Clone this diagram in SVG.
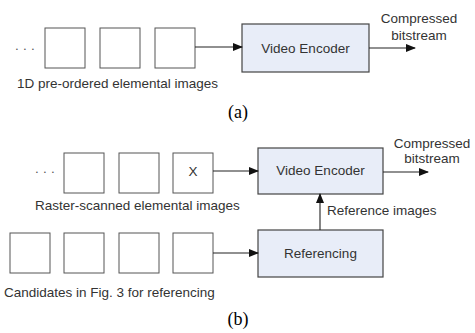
<svg xmlns="http://www.w3.org/2000/svg" width="475" height="333" viewBox="0 0 475 333">
<defs>
<style>
.sq{fill:#fff;stroke:#555;stroke-width:1}
.box{fill:#e8edf8;stroke:#444;stroke-width:1.2}
.t{font-family:"Liberation Sans",Arial,sans-serif;font-size:13.5px;fill:#333}
.c{text-anchor:middle}
.cap{font-family:"Liberation Serif","Times New Roman",serif;font-size:18px;fill:#000;text-anchor:middle}
.ln{stroke:#222;stroke-width:1.1;fill:none;marker-end:url(#ah)}
.dots{font-family:"Liberation Sans",Arial,sans-serif;font-size:13.5px;fill:#555;letter-spacing:4.3px}
</style>
<marker id="ah" markerWidth="10" markerHeight="8" refX="9" refY="4" orient="auto" markerUnits="userSpaceOnUse">
<path d="M0,0 L10,4 L0,8 Z" fill="#111"/>
</marker>
</defs>
<rect width="475" height="333" fill="#fff"/>

<g id="a-images">
<text class="dots" x="15" y="50">...</text>
<rect class="sq" x="45" y="28" width="40" height="40"/>
<rect class="sq" x="100" y="28" width="40" height="40"/>
<rect class="sq" x="155" y="28" width="40" height="40"/>
<text class="t" x="17" y="88">1D pre-ordered elemental images</text>
</g>
<g id="a-encoder">
<rect class="box" x="242" y="24" width="127" height="48"/>
<text class="t c" x="305.5" y="53">Video Encoder</text>
</g>
<g id="a-output">
<text class="t c" x="419" y="23">Compressed</text>
<text class="t c" x="419" y="40">bitstream</text>
</g>
<text class="cap" x="238" y="118">(a)</text>

<g id="b-raster">
<text class="dots" x="35" y="173">...</text>
<rect class="sq" x="64" y="153" width="40" height="40"/>
<rect class="sq" x="119" y="153" width="40" height="40"/>
<rect class="sq" x="173" y="153" width="40" height="40"/>
<text class="t c" x="193" y="176">X</text>
<text class="t" x="35" y="210">Raster-scanned elemental images</text>
</g>
<g id="b-candidates">
<rect class="sq" x="10" y="233" width="40" height="40"/>
<rect class="sq" x="64" y="233" width="40" height="40"/>
<rect class="sq" x="119" y="233" width="40" height="40"/>
<rect class="sq" x="173" y="233" width="40" height="40"/>
<text class="t" x="4" y="297">Candidates in Fig. 3 for referencing</text>
</g>
<g id="b-encoder">
<rect class="box" x="258" y="148" width="125" height="46"/>
<text class="t c" x="320.5" y="175">Video Encoder</text>
</g>
<g id="b-referencing">
<rect class="box" x="258" y="230" width="125" height="47"/>
<text class="t c" x="320.5" y="258">Referencing</text>
</g>
<g id="b-output">
<text class="t c" x="432" y="148">Compressed</text>
<text class="t c" x="432" y="163">bitstream</text>
</g>
<text class="cap" x="238" y="325">(b)</text>

<g id="connectors">
<line class="ln" x1="195" y1="47" x2="242" y2="47"/>
<line class="ln" x1="369" y1="48" x2="415" y2="48"/>
<line class="ln" x1="213" y1="171" x2="258" y2="171"/>
<line class="ln" x1="383" y1="172" x2="428" y2="172"/>
<line class="ln" x1="213" y1="253" x2="258" y2="253"/>
<line class="ln" x1="320" y1="230" x2="320" y2="194"/>
<text class="t" x="327" y="215">Reference images</text>
</g>
</svg>
